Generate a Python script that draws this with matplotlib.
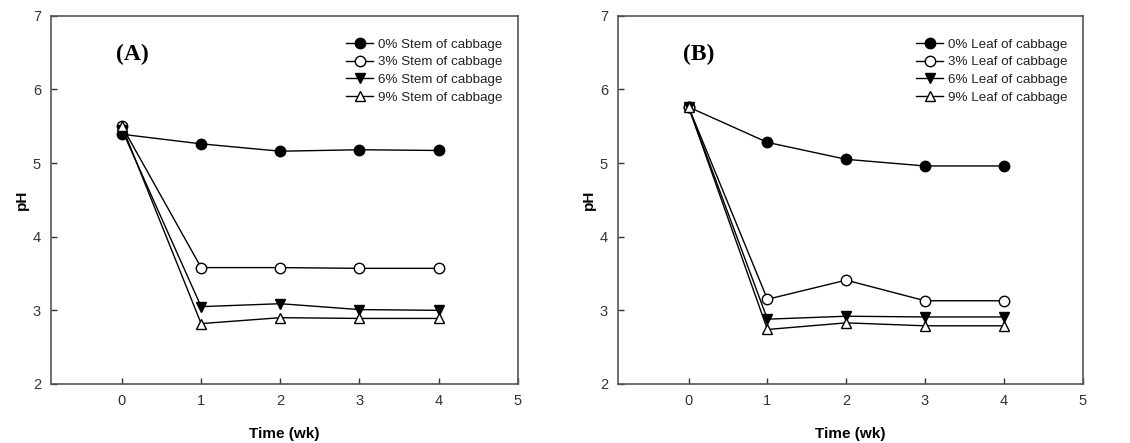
import matplotlib.pyplot as plt

# ---------- data ----------------
weeks = [0, 1, 2, 3, 4]

stem_labels = ["0% Stem of cabbage", "3% Stem of cabbage",
               "6% Stem of cabbage", "9% Stem of cabbage"]
stem_0 = [5.39, 5.26, 5.16, 5.18, 5.17]
stem_3 = [5.50, 3.58, 3.58, 3.57, 3.57]
stem_6 = [5.45, 3.05, 3.09, 3.01, 3.00]
stem_9 = [5.50, 2.82, 2.90, 2.89, 2.89]
stem_0_err = [0.0, 0.04, 0.02, 0.0, 0.0]

leaf_labels = ["0% Leaf of cabbage", "3% Leaf of cabbage",
               "6% Leaf of cabbage", "9% Leaf of cabbage"]
leaf_0 = [5.76, 5.28, 5.05, 4.96, 4.96]
leaf_3 = [5.76, 3.15, 3.41, 3.13, 3.13]
leaf_6 = [5.76, 2.88, 2.92, 2.91, 2.91]
leaf_9 = [5.76, 2.74, 2.83, 2.79, 2.79]

panel_tags = ["(A)", "(B)"]

# ---------- styles ----------------
styles = [
    dict(marker="o", mfc="black"),
    dict(marker="o", mfc="white"),
    dict(marker="v", mfc="black"),
    dict(marker="^", mfc="white"),
]

plt.rcParams["font.family"] = ["Liberation Sans", "DejaVu Sans"]

fig = plt.figure(figsize=(11.3, 4.43), dpi=100)
ax_a = fig.add_axes([0.0449, 0.1332, 0.4133, 0.8314])
ax_b = fig.add_axes([0.5466, 0.1332, 0.4115, 0.8314])


def draw_panel(ax, series, labels, tag, errs=None):
    for i, (ys, lab, st) in enumerate(zip(series, labels, styles)):
        ax.plot(weeks, ys, color="black", lw=1.0, ms=7.5, mec="black",
                mew=1.0, label=lab, **st)
        if i == 0 and errs is not None:
            ax.errorbar(weeks, ys, yerr=errs, fmt="none", ecolor="black",
                        elinewidth=1.0, capsize=3)
    ax.set_xlim(-0.9, 5)
    ax.set_ylim(2, 7)
    ax.set_xticks([0, 1, 2, 3, 4, 5])
    ax.set_yticks([2, 3, 4, 5, 6, 7])
    ax.tick_params(direction="in", length=4, width=1, labelsize=10.5,
                   labelcolor="#333333", color="#333333", pad=7)
    for sp in ax.spines.values():
        sp.set_color("#555555")
        sp.set_linewidth(1.2)
    ax.set_xlabel("Time (wk)", fontsize=11, fontweight="bold", labelpad=14)
    ax.set_ylabel("pH", fontsize=11, fontweight="bold", labelpad=3)
    ax.text(0.14, 0.895, tag, transform=ax.transAxes, fontsize=17,
            fontweight="bold", family=["Liberation Serif", "DejaVu Serif"],
            va="center", ha="left")
    leg = ax.legend(loc="upper right", bbox_to_anchor=(0.985, 0.96),
                    frameon=False, fontsize=9.6, handlelength=2.0,
                    handletextpad=0.4, labelspacing=0.4, borderaxespad=0.2)
    for t in leg.get_texts():
        t.set_color("#222222")


draw_panel(ax_a, [stem_0, stem_3, stem_6, stem_9], stem_labels,
           panel_tags[0], errs=stem_0_err)
draw_panel(ax_b, [leaf_0, leaf_3, leaf_6, leaf_9], leaf_labels,
           panel_tags[1])

fig.savefig("out.png", dpi=100)
